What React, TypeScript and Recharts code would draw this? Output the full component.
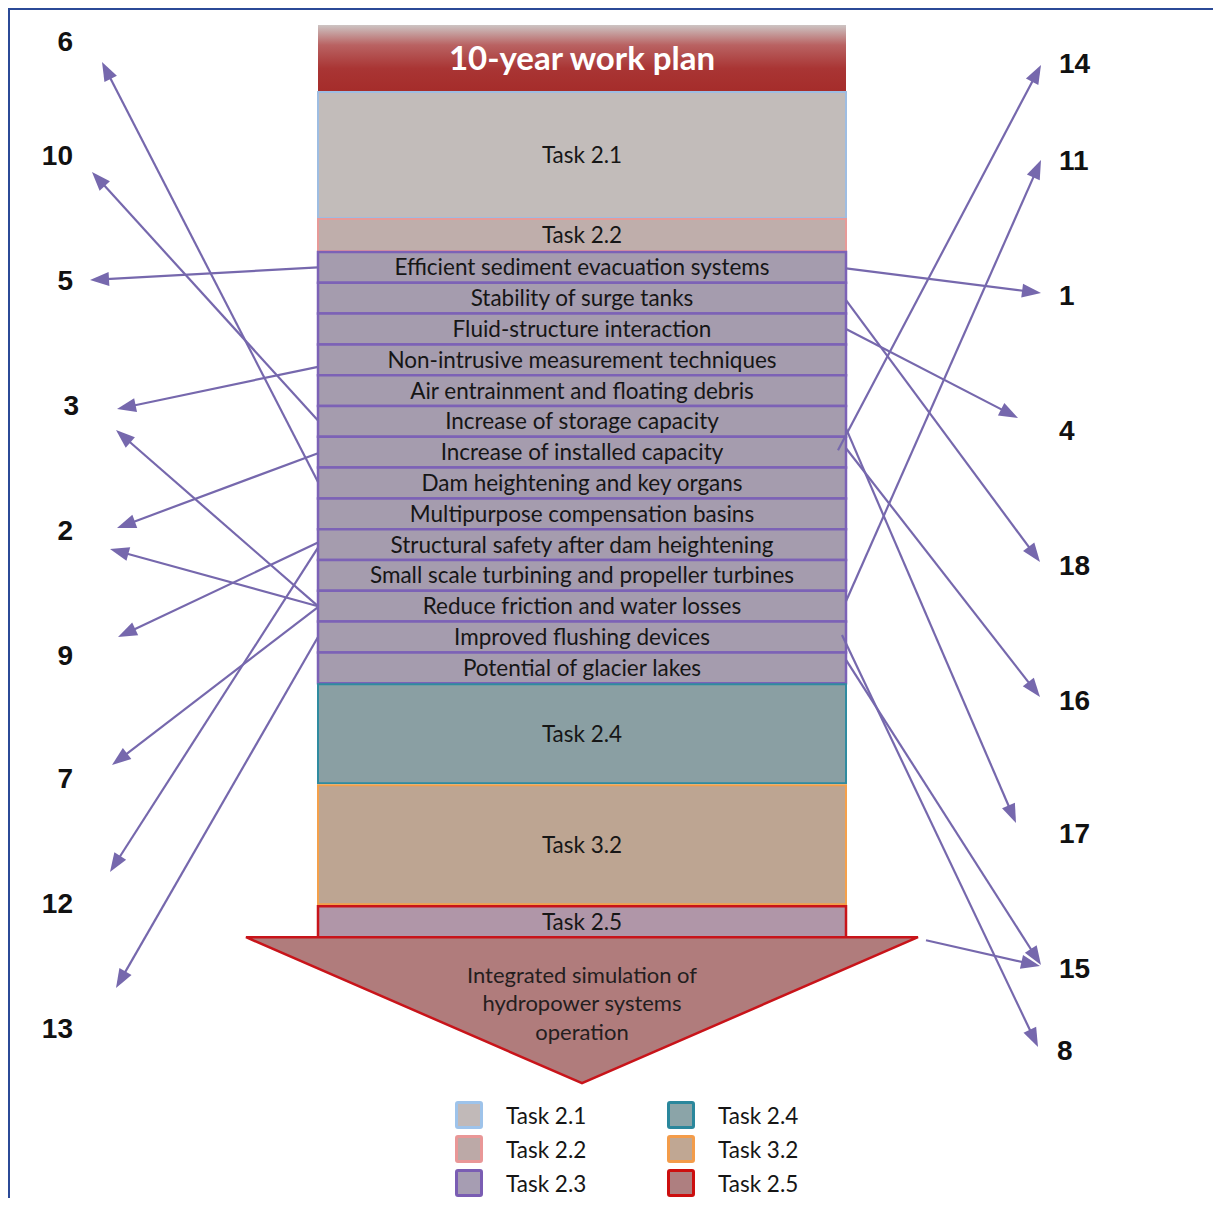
import React from 'react';
import { ComposedChart, XAxis, YAxis, ReferenceArea, ReferenceLine, Scatter, Legend } from 'recharts';

// the chart sits inside a 2px frame, so its box starts at page (10, 10); axes map 1:1 to the page
const CHART_W = 1205;
const CHART_H = 1200;
const ORIGIN = 10;

const FONT = 'Lato, "Open Sans", sans-serif';
const NUM_FONT = '"Liberation Sans", Arial, sans-serif';
const ARROW = '#7668ad';

// column blocks, top to bottom
const blockLabels = [
    '10-year work plan', 'Task 2.1', 'Task 2.2',
    'Efficient sediment evacuation systems', 'Stability of surge tanks', 'Fluid-structure interaction',
    'Non-intrusive measurement techniques', 'Air entrainment and floating debris', 'Increase of storage capacity',
    'Increase of installed capacity', 'Dam heightening and key organs', 'Multipurpose compensation basins',
    'Structural safety after dam heightening', 'Small scale turbining and propeller turbines',
    'Reduce friction and water losses', 'Improved flushing devices', 'Potential of glacier lakes',
    'Task 2.4', 'Task 3.2', 'Task 2.5',
];
const blockTasks = ['plan', '2.1', '2.2', '2.3', '2.3', '2.3', '2.3', '2.3', '2.3', '2.3', '2.3', '2.3', '2.3', '2.3', '2.3', '2.3', '2.3', '2.4', '3.2', '2.5'];
const blockHeights = [67, 126, 32, 30.8, 30.8, 30.8, 30.8, 30.8, 30.8, 30.8, 30.8, 30.8, 30.8, 30.8, 30.8, 30.8, 30.8, 99, 119, 31];
const blockGaps = [0, 0, 1, 1, 0, 0, 0, 0, 0, 0, 0, 0, 0, 0, 0, 0, 0, 1, 2, 2];

const triangleLabel = ['Integrated simulation of', 'hydropower systems', 'operation'];

// numbered targets
const leftNumbers = ['6', '10', '5', '3', '2', '9', '7', '12', '13'];
const leftNumberY = [41, 155, 280, 405, 530, 655, 778, 903, 1028];
const leftNumberX = [73, 73, 73, 79, 73, 73, 73, 73, 73];
const rightNumbers = ['14', '11', '1', '4', '18', '16', '17', '15', '8'];
const rightNumberY = [63, 160, 295, 430, 565, 700, 833, 968, 1050];
const rightNumberX = [1059, 1059, 1059, 1059, 1059, 1059, 1059, 1059, 1057];

// links: source block -> target number, with where the arrow head lands
const linkFrom = [
    'Dam heightening and key organs', 'Increase of storage capacity', 'Efficient sediment evacuation systems',
    'Non-intrusive measurement techniques', 'Reduce friction and water losses', 'Increase of installed capacity',
    'Reduce friction and water losses', 'Structural safety after dam heightening', 'Reduce friction and water losses',
    'Structural safety after dam heightening', 'Improved flushing devices',
    'Efficient sediment evacuation systems', 'Stability of surge tanks', 'Fluid-structure interaction',
    'Increase of installed capacity', 'Increase of installed capacity', 'Increase of storage capacity',
    'Reduce friction and water losses', 'Improved flushing devices', 'Potential of glacier lakes',
    'Integrated simulation',
];
const linkTo = ['6', '10', '5', '3', '3', '2', '2', '9', '7', '12', '13', '1', '18', '4', '14', '16', '17', '11', '8', '15', '15'];
const linkShift = [-1, -1, 0, 7, 0, 1, 0, -2, 1, 3, 0, 1, 2, 0, -2, -4, 7, -5, -2, -8, 3];
const linkInset = [0, 0, 0, 0, 0, 0, 0, 0, 0, 0, 0, 0, 0, 0, 8, 0, 0, 0, 4, 0, 0];
const linkTipX = [102, 92, 90, 117, 116, 117, 110, 118, 112, 110, 116, 1041, 1040, 1018, 1041, 1040, 1016, 1041, 1038, 1041, 1040];
const linkTipY = [62, 172, 280, 409, 430, 528, 549, 637, 765, 872, 988, 293, 562, 418, 65, 697, 823, 160, 1047, 965, 966];

// legend
const legendTasks = ['2.1', '2.2', '2.3', '2.4', '3.2', '2.5'];
const legendFills = ['#c1b9b8', '#bca9a7', '#a69db2', '#8ba4a8', '#c0a793', '#ae7f80'];
const legendBorders = ['#9ec3ea', '#e99797', '#7a5db3', '#2a879c', '#f39c4a', '#cc0f0f'];

const taskStyle: Record<string, { fill: string; stroke: string; sw: number }> = {
    plan: { fill: 'url(#planGrad)', stroke: 'none', sw: 0 },
    '2.1': { fill: '#c2bcba', stroke: '#9ebde2', sw: 2 },
    '2.2': { fill: '#bfaeab', stroke: '#e79a98', sw: 2 },
    '2.3': { fill: '#a59cae', stroke: '#7c62b6', sw: 2.5 },
    '2.4': { fill: '#8a9fa3', stroke: '#2f8ba0', sw: 2 },
    '3.2': { fill: '#bda592', stroke: '#f4a04a', sw: 2 },
    '2.5': { fill: '#b096a8', stroke: '#c8141a', sw: 2.5 },
};

const columnLeft = 318;
const columnRight = 846;
const columnTop = 25;
const columnMid = (columnLeft + columnRight) / 2;
const triangleHalf = 336;
const triangleDepth = 146;

const blockTops = blockHeights.map((_, i) =>
    columnTop + blockHeights.slice(0, i).reduce((s, h) => s + h, 0) + blockGaps.slice(0, i + 1).reduce((s, g) => s + g, 0));
const lastBlock = blockHeights.length - 1;
const triangleTop = blockTops[lastBlock] + blockHeights[lastBlock];

const leftNumberData = leftNumbers.map((n, i) => ({ x: leftNumberX[i], y: leftNumberY[i], name: n, anchor: 'end' }));
const rightNumberData = rightNumbers.map((n, i) => ({ x: rightNumberX[i], y: rightNumberY[i], name: n, anchor: 'start' }));

const links = linkFrom.map((src, i) => {
    const toLeft = leftNumbers.includes(linkTo[i]);
    let ox: number, oy: number;
    const bi = blockLabels.indexOf(src);
    if (bi < 0) {
        // arrow leaving the right corner of the integrated-simulation triangle
        ox = columnMid + triangleHalf + 8;
        oy = triangleTop + linkShift[i];
    } else {
        ox = toLeft ? columnLeft + linkInset[i] : columnRight - linkInset[i];
        oy = blockTops[bi] + blockHeights[bi] / 2 + linkShift[i];
    }
    return { from: { x: ox, y: oy }, to: { x: linkTipX[i], y: linkTipY[i] } };
});

const Arrow = (p: any) => {
    const { x1, y1, x2, y2 } = p;
    const dx = x2 - x1, dy = y2 - y1;
    const len = Math.hypot(dx, dy) || 1;
    const ux = dx / len, uy = dy / len;
    const hl = 19, hw = 7;
    const bx = x2 - ux * hl, by = y2 - uy * hl;
    return (
        <g>
            <line x1={x1} y1={y1} x2={bx + ux * 3} y2={by + uy * 3} stroke={ARROW} strokeWidth={2.2} />
            <polygon points={`${x2},${y2} ${bx - uy * hw},${by + ux * hw} ${bx + uy * hw},${by - ux * hw}`} fill={ARROW} />
        </g>
    );
};

const Triangle = (p: any) => {
    const { x, y, width, height } = p;
    const cx = x + width / 2;
    return (
        <g>
            <polygon points={`${x},${y} ${x + width},${y} ${cx},${y + height}`} fill="#b07c7c" stroke="#c8141a" strokeWidth={2.5} strokeLinejoin="miter" />
            {triangleLabel.map((t, i) => (
                <text key={t} x={cx} y={y + 38 + i * 28.5} dy="0.35em" textAnchor="middle" fontFamily={FONT} fontSize={22} fill="#241e1e">{t}</text>
            ))}
        </g>
    );
};

const NumberMark = (p: any) => (
    <text x={p.cx} y={p.cy} dy="0.36em" textAnchor={p.payload.anchor} fontFamily={NUM_FONT} fontWeight="bold" fontSize={28} fill="#111">
        {p.payload.name}
    </text>
);

const LegendBox = () => (
    <div style={{ display: 'grid', gridTemplateColumns: '212px 190px', gridTemplateRows: 'repeat(3, 34px)', gridAutoFlow: 'column', fontFamily: FONT, fontSize: 22.5, color: '#161616' }}>
        {legendTasks.map((t, i) => (
            <div key={t} style={{ display: 'flex', alignItems: 'center' }}>
                <span style={{ display: 'inline-block', width: 22, height: 22, background: legendFills[i], border: `3px solid ${legendBorders[i]}`, borderRadius: 3, marginRight: 23 }} />
                <span>Task {t}</span>
            </div>
        ))}
    </div>
);

const App: React.FC = () => {
    return (
        <div style={{ borderLeft: '2px solid #2b4a97', borderTop: '2px solid #2b4a97', width: 1211, height: CHART_H, marginBottom: -12 }}>
            <ComposedChart width={CHART_W} height={CHART_H} margin={{ top: 0, right: 0, bottom: 0, left: 0 }}>
                <defs>
                    <linearGradient id="planGrad" x1="0" y1="0" x2="0" y2="1">
                        <stop offset="0" stopColor="#cdc4c3" />
                        <stop offset="0.3" stopColor="#b96262" />
                        <stop offset="0.65" stopColor="#a93534" />
                        <stop offset="1" stopColor="#a52c2a" />
                    </linearGradient>
                </defs>
                <XAxis type="number" dataKey="x" domain={[ORIGIN, ORIGIN + CHART_W]} allowDataOverflow hide />
                <YAxis type="number" dataKey="y" domain={[ORIGIN, ORIGIN + CHART_H]} allowDataOverflow reversed hide />

                {blockLabels.map((label, i) => {
                    const st = taskStyle[blockTasks[i]];
                    const isPlan = blockTasks[i] === 'plan';
                    return (
                        <ReferenceArea
                            key={label}
                            x1={columnLeft}
                            x2={columnRight}
                            y1={blockTops[i]}
                            y2={blockTops[i] + blockHeights[i]}
                            fill={st.fill}
                            fillOpacity={1}
                            stroke={st.stroke}
                            strokeWidth={st.sw}
                            ifOverflow="visible"
                            label={{
                                value: label,
                                position: 'center',
                                fill: isPlan ? '#ffffff' : '#161616',
                                fontSize: isPlan ? 33 : 22.5,
                                fontWeight: isPlan ? 'bold' : 'normal',
                                fontFamily: FONT,
                            }}
                        />
                    );
                })}

                <ReferenceArea
                    x1={columnMid - triangleHalf}
                    x2={columnMid + triangleHalf}
                    y1={triangleTop}
                    y2={triangleTop + triangleDepth}
                    ifOverflow="visible"
                    shape={Triangle}
                />

                {links.map((l, i) => (
                    <ReferenceLine key={i} segment={[l.from, l.to]} ifOverflow="visible" shape={Arrow} />
                ))}

                <Scatter data={leftNumberData} shape={NumberMark} isAnimationActive={false} />
                <Scatter data={rightNumberData} shape={NumberMark} isAnimationActive={false} />

                <Legend
                    layout="vertical"
                    align="center"
                    verticalAlign="middle"
                    content={LegendBox}
                    wrapperStyle={{ left: 445, top: 1088, width: 420 }}
                />
            </ComposedChart>
        </div>
    );
};

export default App;
